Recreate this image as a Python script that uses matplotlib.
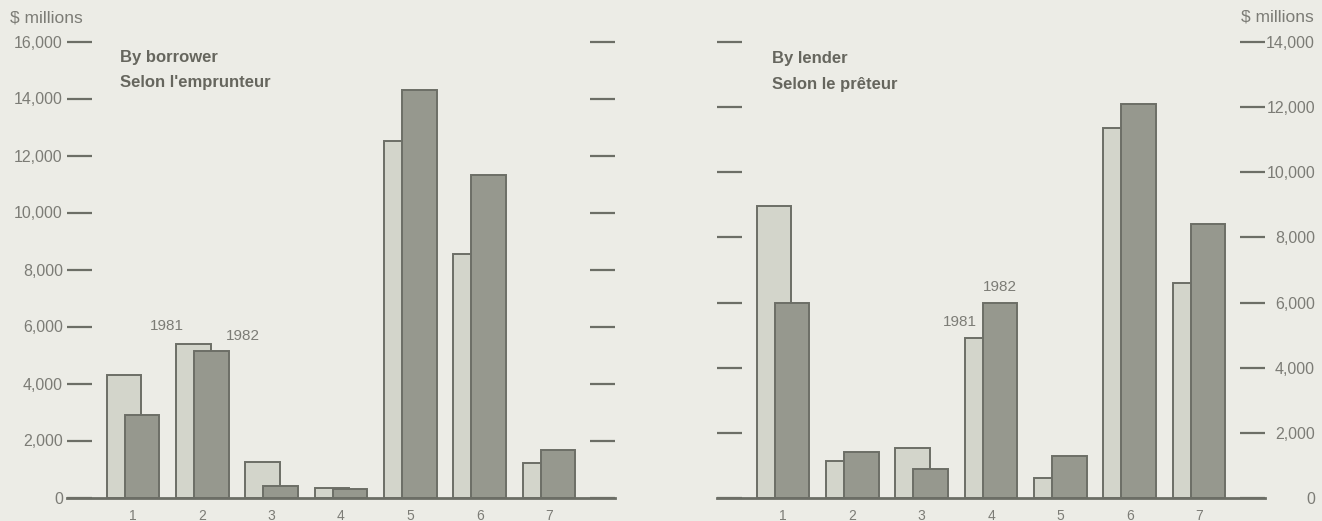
import numpy as np
import matplotlib.pyplot as plt

# data ($ millions)
categories = ['1', '2', '3', '4', '5', '6', '7']
borrower_1981 = [4300, 5400, 1250, 350, 12500, 8550, 1200]
borrower_1982 = [2900, 5150, 400, 300, 14300, 11300, 1650]
lender_1981 = [8950, 1150, 1550, 4900, 600, 11350, 6600]
lender_1982 = [6000, 1400, 900, 6000, 1300, 12100, 8400]
borrower_ticks = [0, 2000, 4000, 6000, 8000, 10000, 12000, 14000, 16000]
lender_ticks = [0, 2000, 4000, 6000, 8000, 10000, 12000, 14000]

plt.rcParams['font.family'] = ['Liberation Sans', 'DejaVu Sans']

bg = '#ecece6'
light = '#d3d5cb'
dark = '#96988e'
edge = '#6c6e66'
txt = '#7c7c76'
title_c = '#66665e'

fig = plt.figure(figsize=(13.22, 5.21), dpi=100, facecolor=bg)
ax1 = fig.add_axes([67 / 1322, 23.5 / 521, 548 / 1322, 456 / 521])
ax2 = fig.add_axes([717 / 1322, 23 / 521, 548 / 1322, 456 / 521])

x = np.arange(1, len(categories) + 1)
w = 0.5
off = 0.13


def draw_panel(ax, v81, v82, ticks):
    ax.set_facecolor(bg)
    ax.bar(x - off, v81, w, color=light, edgecolor=edge, linewidth=1.4, zorder=2)
    ax.bar(x + off, v82, w, color=dark, edgecolor=edge, linewidth=1.4, zorder=3)
    ax.set_xlim(0.05, 7.95)
    ax.set_ylim(0, ticks[-1])
    for s in ['top', 'left', 'right']:
        ax.spines[s].set_visible(False)
    ax.spines['bottom'].set_color(edge)
    ax.spines['bottom'].set_linewidth(2)
    ax.spines['bottom'].set_zorder(4)
    ax.set_xticks(x)
    ax.set_xticklabels(categories)
    ax.tick_params(axis='x', length=0, pad=8, labelsize=10, labelcolor=txt)
    ax.set_yticks(ticks)
    ax.set_yticklabels(['{:,}'.format(t) for t in ticks])
    ax.tick_params(axis='y', direction='in', length=18, width=1.6, color=edge,
                   left=True, right=True, labelsize=11.5, labelcolor=txt)


draw_panel(ax1, borrower_1981, borrower_1982, borrower_ticks)
ax1.tick_params(axis='y', labelleft=True, labelright=False, pad=3)

draw_panel(ax2, lender_1981, lender_1982, lender_ticks)
ax2.tick_params(axis='y', labelleft=False, labelright=True, pad=36)
for t in ax2.yaxis.get_major_ticks():
    t.label2.set_horizontalalignment('right')

# panel titles
tkw = dict(fontsize=12, fontweight='bold', color=title_c, va='center')
ax1.text(0.097, 0.966, 'By borrower', transform=ax1.transAxes, **tkw)
ax1.text(0.097, 0.909, "Selon l'emprunteur", transform=ax1.transAxes, **tkw)
ax2.text(0.100, 0.963, 'By lender', transform=ax2.transAxes, **tkw)
ax2.text(0.100, 0.906, 'Selon le prêteur', transform=ax2.transAxes, **tkw)

# year labels
ykw = dict(fontsize=11, color=txt, ha='center', va='center')
ax1.text(2 - off - 0.38, borrower_1981[1] + 600, '1981', **ykw)
ax1.text(2 + off + 0.45, borrower_1982[1] + 500, '1982', **ykw)
ax2.text(4 - off - 0.32, lender_1981[3] + 500, '1981', **ykw)
ax2.text(4 + off, lender_1982[3] + 480, '1982', **ykw)

fig.text(10 / 1322, 1 - 18 / 521, '$ millions', fontsize=12.5, color=txt, va='center')
fig.text(1314 / 1322, 1 - 17 / 521, '$ millions', fontsize=12.5, color=txt,
         va='center', ha='right')

fig.savefig('out.png', dpi=100, facecolor=bg)
